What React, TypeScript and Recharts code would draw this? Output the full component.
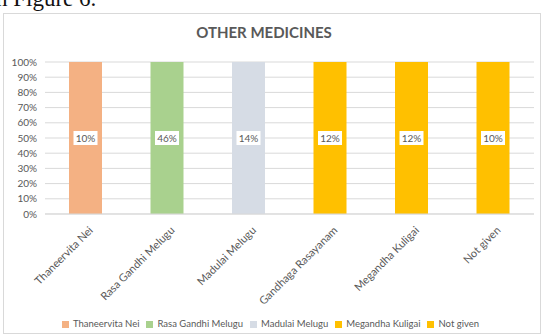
import {
  Bar,
  BarChart,
  CartesianGrid,
  Cell,
  LabelList,
  Legend,
  XAxis,
  YAxis,
} from "recharts";

const categories = [
  "Thaneervita Nei",
  "Rasa Gandhi Melugu",
  "Madulai Melugu",
  "Gandhaga Rasayanam",
  "Megandha Kuligai",
  "Not given",
];
const shares = [10, 46, 14, 12, 12, 10];
const barColors = ["#F4B183", "#A9D18E", "#D6DCE5", "#FFC000", "#FFC000", "#FFC000"];
const legendNames = [
  "Thaneervita Nei",
  "Rasa Gandhi Melugu",
  "Madulai Melugu",
  "Megandha Kuligai",
  "Not given",
];
const legendColors = ["#F4B183", "#A9D18E", "#D6DCE5", "#FFC000", "#FFC000"];
const yTicks = [0, 0.1, 0.2, 0.3, 0.4, 0.5, 0.6, 0.7, 0.8, 0.9, 1];

const data = categories.map((name, i) => ({ name, share: shares[i] }));

const FONT = "Lato, 'Open Sans', sans-serif";
const GREY = "#595959";

// rotated category labels, ending under the bar centre
const XTick = ({ x, y, payload }: any) => (
  <text
    x={x + 8}
    y={y + 9}
    textAnchor="end"
    transform={`rotate(-45 ${x + 8} ${y + 9})`}
    fontSize={11}
    fill={GREY}
    fontFamily={FONT}
  >
    {payload.value}
  </text>
);

// white box with the share, in the middle of the bar
const ShareLabel = ({ x, y, width, height, value }: any) => {
  const cx = x + width / 2;
  const cy = y + height / 2;
  return (
    <g>
      <rect x={cx - 12} y={cy - 7} width={24} height={14} fill="#fff" />
      <text
        x={cx}
        y={cy + 3.5}
        textAnchor="middle"
        fontSize={10}
        fill={GREY}
        fontFamily={FONT}
      >
        {`${value}%`}
      </text>
    </g>
  );
};

const LegendBox = () => (
  <div
    style={{
      display: "flex",
      justifyContent: "center",
      gap: 7,
      fontSize: 9.5,
      lineHeight: "16px",
      color: GREY,
      fontFamily: FONT,
      whiteSpace: "nowrap",
    }}
  >
    {legendNames.map((n, i) => (
      <span key={n} style={{ display: "flex", alignItems: "center" }}>
        <span
          style={{
            display: "inline-block",
            width: 7,
            height: 7,
            background: legendColors[i],
            marginRight: 4,
          }}
        />
        {n}
      </span>
    ))}
  </div>
);

export default function App() {
  return (
    <div
      style={{
        position: "absolute",
        left: 0,
        top: 0,
        width: 545,
        height: 336,
        background: "#fff",
        overflow: "hidden",
      }}
    >
      <div
        style={{
          position: "absolute",
          left: -4,
          top: -14,
          fontSize: 23,
          fontFamily: "'Liberation Serif', serif",
          color: "#111",
          whiteSpace: "nowrap",
        }}
      >
        n Figure 6.
      </div>
      <div
        style={{
          position: "absolute",
          left: 3,
          top: 13,
          width: 536,
          height: 319,
          border: "1px solid #d9d9d9",
        }}
      >
        <div
          style={{
            position: "absolute",
            top: 9,
            left: 0,
            width: 520,
            textAlign: "center",
            fontSize: 15,
            fontWeight: "bold",
            color: GREY,
            fontFamily: FONT,
          }}
        >
          OTHER MEDICINES
        </div>
        <BarChart
          width={536}
          height={319}
          data={data}
          stackOffset="expand"
          margin={{ top: 48, right: 6, left: 3, bottom: 1 }}
        >
          <CartesianGrid vertical={false} stroke="#d9d9d9" />
          <XAxis
            dataKey="name"
            interval={0}
            height={102}
            tickLine={false}
            axisLine={{ stroke: "#d9d9d9" }}
            tick={<XTick />}
          />
          <YAxis
            width={38}
            domain={[0, 1]}
            ticks={yTicks}
            interval={0}
            tickFormatter={(v: number) => `${Math.round(v * 100)}%`}
            axisLine={false}
            tickLine={false}
            tick={{ fontSize: 10, fill: GREY, fontFamily: FONT }}
          />
          <Legend verticalAlign="bottom" height={16} content={<LegendBox />} />
          <Bar dataKey="share" stackId="a" barSize={33} isAnimationActive={false}>
            {data.map((_, i) => (
              <Cell key={`cell-${i}`} fill={barColors[i]} />
            ))}
            <LabelList dataKey="share" content={<ShareLabel />} />
          </Bar>
        </BarChart>
      </div>
    </div>
  );
}
